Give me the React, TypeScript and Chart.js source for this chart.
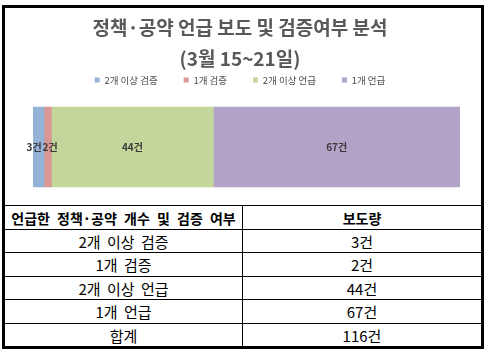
import React, { useEffect, useRef } from "react";
import { Chart, registerables } from "chart.js";

Chart.register(...registerables);

const TITLE_LINES = ["정책·공약 언급 보도 및 검증여부 분석", "(3월 15~21일)"];
const CATEGORIES = ["2개 이상 검증", "1개 검증", "2개 이상 언급", "1개 언급"];
const VALUES = [3, 2, 44, 67];
const COLORS = ["#95B3D7", "#D99694", "#C3D69B", "#B3A2C7"];
const UNIT = "건";
const TOTAL_LABEL = "합계";
const TOTAL = 116;
const TABLE_HEADER = ["언급한 정책·공약 개수 및 검증 여부", "보도량"];

const FONT = '"Noto Sans CJK KR", "Noto Sans", sans-serif';

const labelPlugin = {
  id: "barLabels",
  afterDatasetsDraw(chart: any) {
    const ctx = chart.ctx;
    ctx.save();
    ctx.font = `bold 10px ${FONT}`;
    ctx.fillStyle = "#3a3a3a";
    ctx.textAlign = "center";
    ctx.textBaseline = "middle";
    const items: { text: string; cx: number; y: number; w: number }[] = [];
    chart.data.datasets.forEach((ds: any, i: number) => {
      const meta = chart.getDatasetMeta(i);
      meta.data.forEach((el: any, j: number) => {
        const { x, y, base } = el.getProps(["x", "y", "base"], true);
        const text = `${ds.data[j]}${UNIT}`;
        items.push({ text, cx: (x + base) / 2, y, w: ctx.measureText(text).width });
      });
    });
    // push apart overlapping neighbouring labels
    for (let k = 1; k < items.length; k++) {
      const a = items[k - 1];
      const b = items[k];
      const overlap = a.cx + a.w / 2 + 1 - (b.cx - b.w / 2);
      if (overlap > 0) {
        a.cx -= overlap * 0.65;
        b.cx += overlap * 0.35;
      }
    }
    items.forEach((it) => ctx.fillText(it.text, it.cx, it.y));
    ctx.restore();
  },
};

export default function App() {
  const ref = useRef<HTMLCanvasElement | null>(null);

  useEffect(() => {
    if (!ref.current) return;
    const chart = new Chart(ref.current, {
      type: "bar",
      data: {
        labels: [""],
        datasets: CATEGORIES.map((c, i) => ({
          label: c,
          data: [VALUES[i]],
          backgroundColor: COLORS[i],
          borderColor: COLORS[i],
          borderWidth: 0,
          barThickness: 80,
          xAxisID: "x",
          yAxisID: "y",
        })),
      },
      options: {
        indexAxis: "y",
        animation: false,
        responsive: false,
        layout: { padding: { top: 0, bottom: 5.75, left: 0, right: 0 } },
        plugins: {
          title: {
            display: true,
            text: TITLE_LINES,
            color: "#595959",
            font: { family: FONT, size: 19, weight: "bold", lineHeight: 31 / 19 },
            padding: { top: 4, bottom: -24.75 },
          },
          legend: {
            position: "top",
            labels: {
              boxWidth: 5,
              boxHeight: 5,
              padding: 26,
              color: "#4a4a4a",
              font: { family: FONT, size: 9.5 },
            },
          },
          tooltip: { enabled: false },
        },
        scales: {
          x: { display: false, stacked: true, min: 0, max: TOTAL },
          y: {
            stacked: true,
            display: true,
            grid: { display: false },
            ticks: { display: false },
            border: { display: false },
            afterFit: (s: any) => {
              s.width = 31;
            },
          },
          yRight: {
            type: "linear",
            position: "right",
            display: true,
            grid: { display: false },
            ticks: { display: false },
            border: { display: false },
            afterFit: (s: any) => {
              s.width = 18;
            },
          },
        },
      } as any,
      plugins: [labelPlugin],
    });
    return () => chart.destroy();
  }, []);

  const rows: [string, string][] = [
    ...CATEGORIES.map((c, i) => [c, `${VALUES[i]}${UNIT}`] as [string, string]),
    [TOTAL_LABEL, `${TOTAL}${UNIT}`],
  ];
  const heights = [24, 23, 24, 23, 24, 23];

  const cellBase: React.CSSProperties = {
    display: "flex",
    alignItems: "center",
    justifyContent: "center",
    boxSizing: "border-box",
    fontFamily: FONT,
    color: "#000",
    whiteSpace: "nowrap",
    overflow: "hidden",
  };

  const allRows: [string, string][] = [[TABLE_HEADER[0], TABLE_HEADER[1]], ...rows];

  return (
    <div style={{ position: "absolute", left: 0, top: 0, width: 489, height: 353, background: "#fff" }}>
      <canvas
        ref={ref}
        width={476}
        height={197}
        style={{ position: "absolute", left: 2, top: 8, width: 476, height: 197 }}
      />
      <div style={{ position: "absolute", left: 5, top: 205, width: 476, height: 141 }}>
        {allRows.map((r, i) => {
          const head = i === 0;
          const textStyle: React.CSSProperties = head
            ? { fontSize: 14, fontWeight: 700, wordSpacing: 4 }
            : { fontSize: 15, fontWeight: 400, wordSpacing: 3 };
          return (
            <div
              key={i}
              style={{
                display: "flex",
                height: heights[i],
                borderTop: "1px solid #000",
                boxSizing: "border-box",
              }}
            >
              <div style={{ ...cellBase, ...textStyle, width: 238, borderRight: "1px solid #000" }}>
                {r[0]}
              </div>
              <div style={{ ...cellBase, ...textStyle, width: 238 }}>{r[1]}</div>
            </div>
          );
        })}
      </div>
      <div
        style={{
          position: "absolute",
          left: 2,
          top: 5,
          width: 482,
          height: 344,
          border: "3px solid #000",
          boxSizing: "border-box",
          pointerEvents: "none",
        }}
      />
    </div>
  );
}
